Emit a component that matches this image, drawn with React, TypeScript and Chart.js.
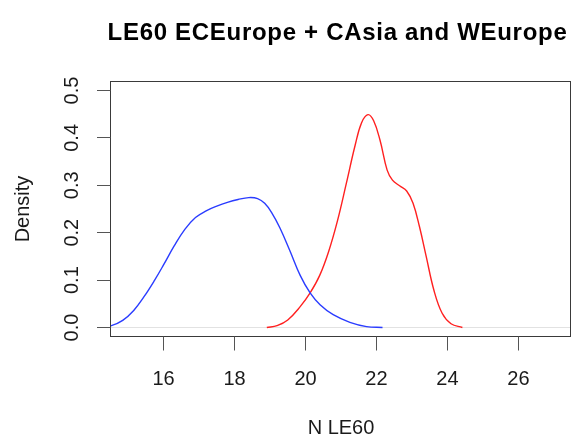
import React, { useEffect, useRef } from "react";
import { Chart, registerables } from "chart.js";

Chart.register(...registerables);

const titleText = "LE60 ECEurope + CAsia and WEurope";
const xAxisTitle = "N LE60";
const yAxisTitle = "Density";

const xTicks = [16, 18, 20, 22, 24, 26];
const xTickLabels = ["16", "18", "20", "22", "24", "26"];
const yTicks = [0, 0.1, 0.2, 0.3, 0.4, 0.5];
const yTickLabels = ["0.0", "0.1", "0.2", "0.3", "0.4", "0.5"];

const xLimits = [14.52, 27.48];
const yLimits = [-0.02, 0.52];

// ECEurope + CAsia (blue)
const blueX = [14.2, 14.53, 14.85, 15.16, 15.45, 15.75, 16.0, 16.3, 16.6, 16.9, 17.2, 17.5, 17.8, 18.1, 18.4, 18.65, 18.85, 19.05, 19.28, 19.56, 19.85, 20.13, 20.41, 20.78, 21.25, 21.72, 22.17];
const blueY = [0.001, 0.004, 0.015, 0.036, 0.065, 0.1, 0.132, 0.172, 0.207, 0.232, 0.246, 0.256, 0.264, 0.27, 0.274, 0.272, 0.262, 0.242, 0.21, 0.162, 0.11, 0.073, 0.048, 0.027, 0.011, 0.002, 0.0];

// WEurope (red)
const redX = [18.91, 19.2, 19.5, 19.85, 20.13, 20.4, 20.65, 20.9, 21.15, 21.4, 21.58, 21.76, 21.92, 22.1, 22.3, 22.45, 22.65, 22.85, 23.03, 23.21, 23.4, 23.62, 23.85, 24.1, 24.42];
const redY = [0.0, 0.004, 0.016, 0.044, 0.073, 0.11, 0.16, 0.225, 0.304, 0.385, 0.432, 0.449, 0.436, 0.395, 0.332, 0.311, 0.299, 0.288, 0.262, 0.213, 0.15, 0.078, 0.03, 0.008, 0.0];

const FONT = '"Liberation Sans", Arial, Helvetica, sans-serif';

const rStylePlugin = {
  id: "rStyle",
  beforeDatasetsDraw(chart: any) {
    const { ctx, chartArea: a, scales } = chart;
    const y = scales.y;
    ctx.save();
    ctx.strokeStyle = "#e2e2e2";
    ctx.lineWidth = 1;
    const y0 = Math.floor(y.getPixelForValue(0)) + 0.5;
    ctx.beginPath();
    ctx.moveTo(a.left, y0);
    ctx.lineTo(a.right, y0);
    ctx.stroke();
    ctx.restore();
  },
  afterDraw(chart: any) {
    const { ctx, chartArea: a, scales } = chart;
    const x = scales.x;
    const y = scales.y;
    ctx.save();
    // box
    ctx.strokeStyle = "#3a3a3a";
    ctx.lineWidth = 1;
    const L = Math.round(a.left) - 0.5;
    const R = Math.round(a.right) - 0.5;
    const T = Math.round(a.top) + 0.5;
    const B = Math.round(a.bottom) - 0.5;
    ctx.strokeRect(L, T, R - L, B - T);

    // ticks
    ctx.strokeStyle = "#555";
    ctx.beginPath();
    xTicks.forEach((v) => {
      const px = Math.floor(x.getPixelForValue(v)) + 0.5;
      ctx.moveTo(px, B);
      ctx.lineTo(px, B + 14);
    });
    yTicks.forEach((v) => {
      const py = Math.floor(y.getPixelForValue(v)) + 0.5;
      ctx.moveTo(L, py);
      ctx.lineTo(L - 13.5, py);
    });
    ctx.stroke();

    // tick labels
    ctx.fillStyle = "#1a1a1a";
    ctx.font = `20px ${FONT}`;
    ctx.textAlign = "center";
    ctx.textBaseline = "alphabetic";
    xTicks.forEach((v, i) => {
      const px = x.getPixelForValue(v);
      ctx.fillText(xTickLabels[i], px, 385);
    });
    yTicks.forEach((v, i) => {
      const py = y.getPixelForValue(v);
      ctx.save();
      ctx.translate(78, py);
      ctx.rotate(-Math.PI / 2);
      ctx.fillText(yTickLabels[i], 0, 0);
      ctx.restore();
    });

    // axis titles
    const cx = (a.left + a.right) / 2;
    const cy = (a.top + a.bottom) / 2;
    ctx.fillText(xAxisTitle, cx, 434);
    ctx.save();
    ctx.translate(29, cy);
    ctx.rotate(-Math.PI / 2);
    ctx.fillText(yAxisTitle, 0, 0);
    ctx.restore();

    // main title
    ctx.fillStyle = "#000";
    ctx.font = `bold 24px ${FONT}`;
    try {
      (ctx as any).letterSpacing = "0.7px";
    } catch (e) {}
    ctx.fillText(titleText, 337.5, 40);
    ctx.restore();
  },
};

export default function App() {
  const canvasRef = useRef<HTMLCanvasElement | null>(null);

  useEffect(() => {
    document.body.style.margin = "0";
    const canvas = canvasRef.current;
    if (!canvas) return;
    const chart = new Chart(canvas, {
      type: "line",
      data: {
        datasets: [
          {
            label: "ECEurope + CAsia",
            data: blueX.map((v, i) => ({ x: v, y: blueY[i] })),
            borderColor: "#2a3cff",
            borderWidth: 1.4,
            pointRadius: 0,
            fill: false,
            tension: 0.4,
          },
          {
            label: "WEurope",
            data: redX.map((v, i) => ({ x: v, y: redY[i] })),
            borderColor: "#ff2020",
            borderWidth: 1.4,
            pointRadius: 0,
            fill: false,
            tension: 0.4,
          },
        ],
      },
      options: {
        responsive: false,
        animation: false,
        devicePixelRatio: 1,
        layout: { padding: { left: 111, right: 1, top: 81, bottom: 100 } },
        scales: {
          x: { type: "linear", min: xLimits[0], max: xLimits[1], display: false },
          y: { type: "linear", min: yLimits[0], max: yLimits[1], display: false },
        },
        plugins: {
          legend: { display: false },
          tooltip: { enabled: false },
          title: { display: false },
        },
        events: [],
      },
      plugins: [rStylePlugin],
    });
    return () => chart.destroy();
  }, []);

  return (
    <div style={{ width: 572, height: 437, background: "#fff" }}>
      <canvas ref={canvasRef} width={572} height={437} style={{ display: "block" }} />
    </div>
  );
}
